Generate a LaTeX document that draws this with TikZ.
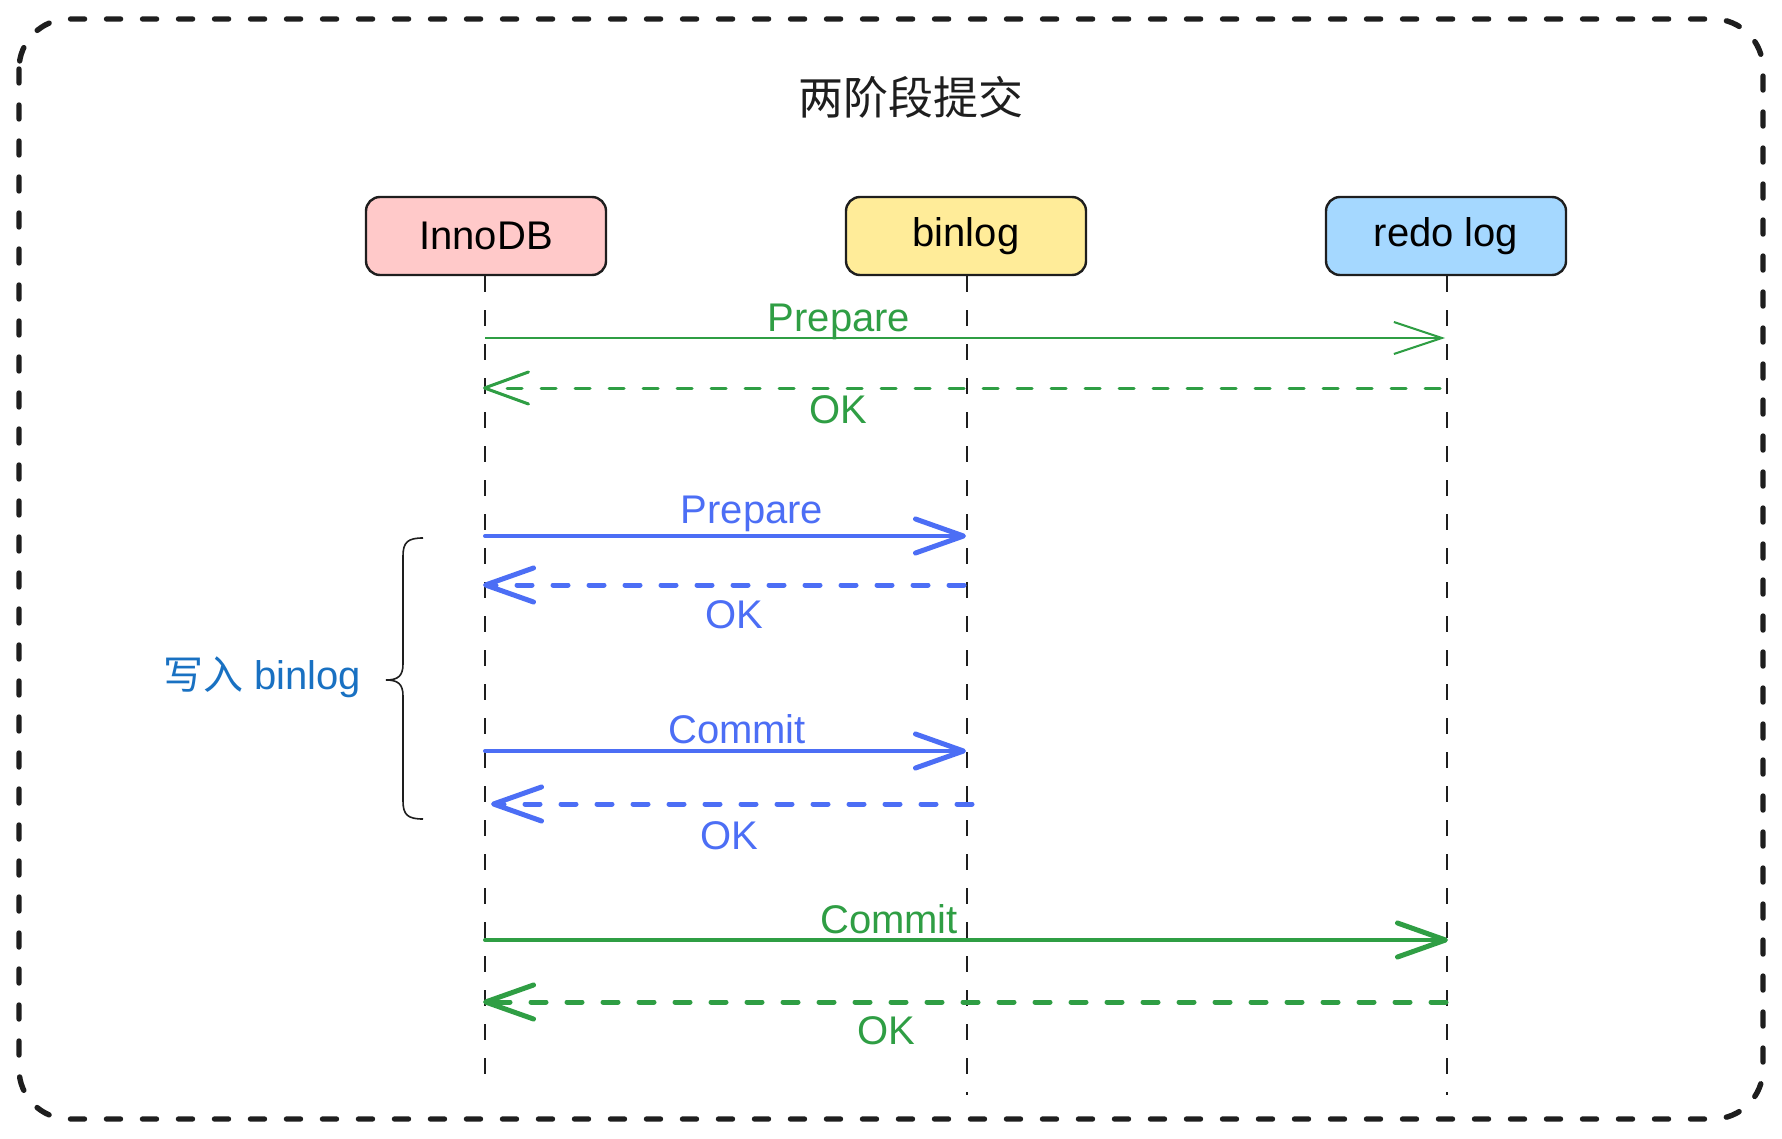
\documentclass[tikz,border=0pt]{standalone}
\usepackage{fontspec}
\setmainfont{Liberation Sans}
\newfontfamily\cjk{Noto Sans CJK SC}
\usetikzlibrary{arrows.meta}
\definecolor{exgreen}{HTML}{2F9E44}
\definecolor{exblue}{HTML}{4C6EF5}
\definecolor{exdblue}{HTML}{1971C2}
\definecolor{exink}{HTML}{1E1E1E}
\definecolor{expink}{HTML}{FFC9C9}
\definecolor{exyellow}{HTML}{FFEC99}
\definecolor{exsky}{HTML}{A5D8FF}
\tikzset{
  actor/.style={draw=exink, line width=1.2pt, rounded corners=7pt, minimum width=120pt, minimum height=39pt, font=\fontsize{20}{24}\selectfont, inner sep=0pt},
  lifeline/.style={draw=exink, line width=1pt, dash pattern=on 8pt off 9pt},
  lbl/.style={font=\fontsize{20}{24}\selectfont, inner sep=0pt},
  thinmsg/.style={line width=1pt, -{Straight Barb[length=24pt,width=16pt,line width=1pt]}},
  thickmsg/.style={line width=2pt, line cap=round, -{Straight Barb[length=24pt,width=17pt,line width=2.5pt,round]}},
  retdash/.style={line width=2.5pt, dash pattern=on 7.5pt off 10.5pt, line cap=round},
  thinret/.style={line width=1.5pt, line cap=round, dash pattern=on 7.5pt off 9.5pt, -{Straight Barb[length=22pt,width=16pt,line width=1.5pt,round]}},
}
\begin{document}
\begin{tikzpicture}[x=0.5pt,y=-0.5pt]
\useasboundingbox (0,0) rectangle (1782,1139);
% frame
\draw[exink, line width=2.7pt, rounded corners=25pt, line cap=round, dash pattern=on 7pt off 11pt] (19,19) rectangle (1763,1119);
% title
\node[font=\cjk\fontsize{22.5}{26}\selectfont, text=exink] (title) at (911,97) {两阶段提交};
% actors
\node[actor, fill=expink] (inno) at (486,236) {InnoDB};
\node[actor, fill=exyellow] (bin) at (966,236) {binlog};
\node[actor, fill=exsky] (redo) at (1446,236) {redo log};
% lifelines
\coordinate (innoEnd) at (485,1090);
\coordinate (binEnd) at (967,1095);
\coordinate (redoEnd) at (1447,1095);
\draw[lifeline] (inno.south -| innoEnd) -- (innoEnd);
\draw[lifeline] (bin.south -| binEnd) -- (binEnd);
\draw[lifeline] (redo.south -| redoEnd) -- (redoEnd);
% message endpoints
\coordinate (a1) at (485,338); \coordinate (b1) at (1445,338);
\coordinate (a2) at (1440,388); \coordinate (b2) at (483,388);
\coordinate (a3) at (485,536); \coordinate (b3) at (966,536);
\coordinate (a4) at (964,585); \coordinate (b4) at (483,585);
\coordinate (a5) at (485,751); \coordinate (b5) at (966,751);
\coordinate (a6) at (972,804); \coordinate (b6) at (491,804);
\coordinate (a7) at (485,940); \coordinate (b7) at (1448,940);
\coordinate (a8) at (1446,1002); \coordinate (b8) at (483,1002);
% messages
\draw[thinmsg, exgreen] (a1) -- (b1);
\node[lbl, text=exgreen] (l1) at (839,322) {Prepare};
\draw[thinret, exgreen] (a2) -- (b2);
\node[lbl, text=exgreen] (l2) at (838,410) {OK};
\draw[thickmsg, exblue] (a3) -- (b3);
\node[lbl, text=exblue] (l3) at (752,514) {Prepare};
\draw[thickmsg, retdash, exblue] (a4) -- (b4);
\node[lbl, text=exblue] (l4) at (734,615) {OK};
\draw[thickmsg, exblue] (a5) -- (b5);
\node[lbl, text=exblue] (l5) at (737,729) {Commit};
\draw[thickmsg, retdash, exblue] (a6) -- (b6);
\node[lbl, text=exblue] (l6) at (729,836) {OK};
\draw[thickmsg, exgreen] (a7) -- (b7);
\node[lbl, text=exgreen] (l7) at (889,919) {Commit};
\draw[thickmsg, retdash, exgreen] (a8) -- (b8);
\node[lbl, text=exgreen] (l8) at (886,1031) {OK};
% brace
\draw[exink, line width=0.8pt] (423,538) .. controls (408,538) and (403,542) .. (403,556)
  -- (403,664) .. controls (403,676) and (398,680) .. (386,680)
  .. controls (398,680) and (403,684) .. (403,696)
  -- (403,801) .. controls (403,815) and (408,819) .. (423,819);
\node[lbl, text=exdblue] (wb) at (262,677) {{\cjk 写入} binlog};
\end{tikzpicture}
\end{document}
